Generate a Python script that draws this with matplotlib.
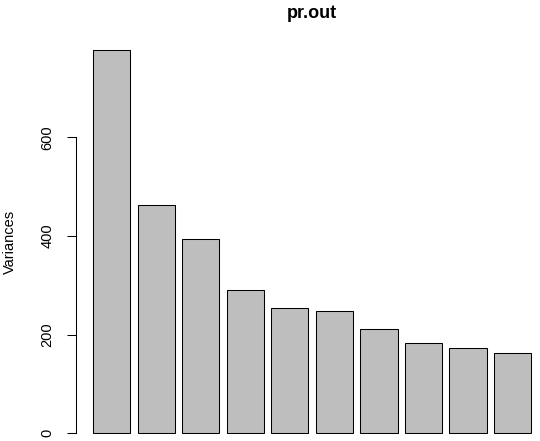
import matplotlib
matplotlib.use("Agg")
import matplotlib.pyplot as plt
import numpy as np

# variances of the first 10 principal components
components = np.arange(1, 11)
variances = [776, 462, 394, 290, 255, 247, 211, 184, 172, 162]
yticks = [0, 200, 400, 600]

plt.rcParams['font.family'] = ['Liberation Sans', 'DejaVu Sans']

fig = plt.figure(figsize=(5.4, 4.41), dpi=100)
W, H = 540, 441
# plot region in pixels (R-style layout, partly cropped at right/bottom)
left_px, top_px = 75.8, 35.2
ax = fig.add_axes([left_px / W, 0, 1 - left_px / W, 1 - top_px / H])

# R barplot geometry: width 1, space 0.2
centers = 0.7 + 1.2 * (components - 1)
ax.bar(centers, variances, width=1.0, color='#bebebe', edgecolor='black', linewidth=0.75)

ax.set_xlim(-0.272, 12.24)
ax.set_ylim(-15.6, 807)

for s in ['top', 'right', 'bottom']:
    ax.spines[s].set_visible(False)
ax.spines['left'].set_bounds(0, 600)
ax.spines['left'].set_linewidth(0.75)
ax.set_xticks([])
ax.set_yticks(yticks)
ax.set_yticklabels([str(v) for v in yticks], rotation=90, va='center', fontsize=10.5)
ax.tick_params(axis='y', length=6.2, width=0.75, pad=9.0)

fig.text(312.3 / W, 1 - 13 / H, 'pr.out', ha='center', va='center',
         fontsize=13, fontweight='bold')
fig.text(9.5 / W, 1 - 242 / H, 'Variances', ha='center', va='center',
         rotation=90, fontsize=10.5)

fig.savefig('out.png', dpi=100)
